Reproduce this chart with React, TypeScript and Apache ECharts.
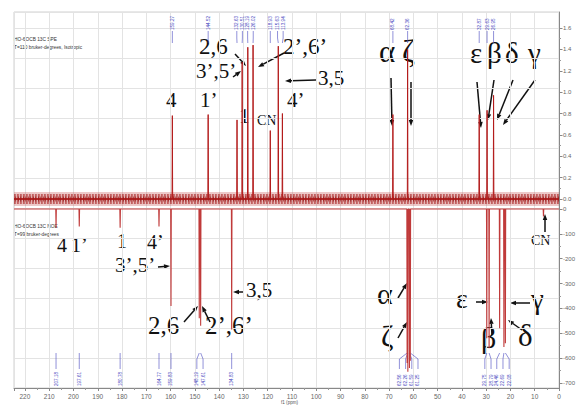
import React, { useEffect, useRef } from 'react';
import * as echarts from 'echarts';

// ---- data ----
const upperPpm = [159.27, 144.52, 132.63, 130.51, 128.19, 126.02, 118.93, 115.63, 113.94, 68.42, 62.36, 32.87, 29.63, 26.95];
const upperHeight = [0.78, 0.79, 0.74, 1.28, 1.42, 1.44, 0.64, 1.43, 0.8, 0.79, 1.4, 0.79, 0.83, 0.97];
const lowerPpm = [207.18, 197.61, 180.78, 164.77, 159.83, 148.19, 147.61, 134.83, 62.56, 62.26, 61.59, 61.25, 29.75, 28.79, 24.46, 22.69, 22.08, 6.4];
const lowerHeight = [-75, -70, -75, -70, -390, -440, -470, -485, -620, -655, -640, -610, -520, -560, -480, -555, -540, -30];
const lowerLabelPpm = [207.18, 197.61, 180.78, 164.77, 159.83, 148.19, 147.61, 134.83, 62.56, 62.26, 61.59, 61.25, 29.75, 28.79, 24.46, 22.69, 22.08];
const upperTickValues = [0, 0.2, 0.4, 0.6, 0.8, 1.0, 1.2, 1.4, 1.6];
const upperMinorTicks = [0.1, 0.3, 0.5, 0.7, 0.9, 1.1, 1.3, 1.5];
const lowerTickValues = [0, -100, -200, -300, -400, -500, -600, -700];
const lowerMinorTicks = [-50, -150, -250, -350, -450, -550, -650];
const ppmMax = 224.5;
const xAxisTitle = 'f1 (ppm)';

const titleUpper = ['HO-6OCB 13C SPE', 'T=110 bruker-degrees, Isotropic'];
const titleLower = ['HO-6OCB 13C NOE', 'T=99 bruker-degrees'];

function buildSpectrum(ppms: number[], heights: number[]) {
  const pairs = ppms.map((p, i) => [p, heights[i]]).sort((a, b) => b[0] - a[0]);
  const pts: number[][] = [[ppmMax, 0]];
  const hw = 0.12;
  pairs.forEach(([p, h]) => {
    pts.push([p + hw, 0], [p, h], [p - hw, 0]);
  });
  pts.push([0, 0]);
  return pts;
}

function spread(xs: number[], gap: number) {
  const idx = xs.map((x, i) => i).sort((a, b) => xs[a] - xs[b]);
  const out = xs.slice();
  let cluster: number[] = [idx[0]];
  const flush = () => {
    const n = cluster.length;
    const c = cluster.reduce((s, k) => s + xs[k], 0) / n;
    cluster.forEach((k, j) => { out[k] = c + (j - (n - 1) / 2) * gap; });
  };
  for (let j = 1; j < idx.length; j++) {
    const prev = idx[j - 1];
    const cur = idx[j];
    if (xs[cur] - xs[prev] < gap) cluster.push(cur);
    else { flush(); cluster = [cur]; }
  }
  flush();
  return out;
}

const INK = '#111';
const SERIF = '"Liberation Serif", "DejaVu Serif", serif';

function label(text: string, x: number, y: number, size: number) {
  return { type: 'text', x, y, silent: true, style: { text, fontSize: size, fontFamily: SERIF, fill: INK, align: 'left', verticalAlign: 'top' } };
}

function arrow(x1: number, y1: number, x2: number, y2: number, head = 6) {
  const a = Math.atan2(y2 - y1, x2 - x1);
  const bx = x2 - head * Math.cos(a);
  const by = y2 - head * Math.sin(a);
  const px = -Math.sin(a) * head * 0.38;
  const py = Math.cos(a) * head * 0.38;
  return [
    { type: 'line', silent: true, shape: { x1, y1, x2: bx, y2: by }, style: { stroke: INK, lineWidth: 1.5 } },
    { type: 'polygon', silent: true, shape: { points: [[x2, y2], [bx + px, by + py], [bx - px, by - py]] }, style: { fill: INK } },
  ];
}

function smallText(text: string, x: number, y: number) {
  return { type: 'text', x, y, silent: true, style: { text, fontSize: 4.8, fontFamily: 'Arial, "Liberation Sans", sans-serif', fill: '#333', align: 'left', verticalAlign: 'top' } };
}

const BLUE = '#4646c0';

export default function App() {
  const ref = useRef<HTMLDivElement>(null);
  useEffect(() => {
    if (!ref.current) return;
    const chart = echarts.init(ref.current, undefined, { renderer: 'svg' });
    const gridTop = 12, gridBottom = 18;
    const upperPx = 171 / 1.6; // px per unit
    const lowerPx = 174 / 700;
    const upMax = (199 - gridTop) / upperPx;
    const upMin = -(406 - gridBottom - 199) / upperPx;
    const loMax = (209 - gridTop) / lowerPx;
    const loMin = -(406 - gridBottom - 209) / lowerPx;
    const gridLineMax = (406 - gridBottom - gridTop) / 30;

    const hiddenAxis = { show: true, axisLine: { show: false, onZero: false }, axisLabel: { show: false }, splitLine: { show: false } };

    const graphics: any[] = [
      smallText(titleUpper[0], 14, 37),
      smallText(titleUpper[1], 14, 45),
      smallText(titleLower[0], 14, 224),
      smallText(titleLower[1], 14, 232),
      { type: 'text', x: 281, y: 399.5, silent: true, style: { text: xAxisTitle, fontSize: 4.6, fontFamily: 'Arial', fill: '#555', align: 'left', verticalAlign: 'top' } },
      // upper spectrum annotations
      label('2,6', 199, 35, 23), ...arrow(235, 54, 246, 66),
      label('3’,5’', 196, 60, 21), ...arrow(233, 77, 241, 71),
      label('2’,6’', 283, 35, 23), ...arrow(284, 53, 258, 67),
      label('3,5', 318, 67, 21), ...arrow(316, 80, 285, 81),
      label('4', 166, 89, 21), label('1’', 200, 89, 21), label('1', 239, 105, 21),
      { type: 'text', x: 257, y: 113, silent: true, style: { text: 'CN', fontSize: 14, fontFamily: SERIF, fill: INK, align: 'left', verticalAlign: 'top' } },
      label('4’', 287, 89, 21),
      label('α', 379, 36, 31), label('ζ', 402, 36, 31),
      ...arrow(391, 78, 392, 126), ...arrow(411, 82, 411, 126),
      label('ε', 470, 38, 29), label('β', 487, 38, 29), label('δ', 505, 38, 29), label('γ', 528, 38, 29),
      ...arrow(477, 82, 481, 128), ...arrow(494, 80, 488, 120), ...arrow(513, 80, 497, 120), ...arrow(535, 80, 503, 125),
      // lower spectrum annotations
      label('4', 57, 235, 20), label('1’', 71, 235, 20), label('1', 117, 231, 20), label('4’', 147, 232, 20),
      label('3’,5’', 115, 254, 21), ...arrow(158, 267, 170, 266),
      label('3,5', 246, 279, 21), ...arrow(244, 292, 233, 292),
      label('2,6', 148, 313, 25), ...arrow(184, 322, 198, 306),
      label('2’,6’', 205, 313, 25), ...arrow(210, 322, 202, 306),
      label('α', 377, 278, 30), ...arrow(398, 298, 407, 283),
      label('ζ', 381, 320, 30), ...arrow(398, 338, 407, 322),
      label('ε', 456, 284, 28), ...arrow(476, 302, 488, 302),
      label('β', 481, 322, 30), ...arrow(492, 335, 491, 318),
      label('δ', 518, 320, 31), ...arrow(522, 330, 508, 320),
      label('γ', 531, 284, 29), ...arrow(530, 303, 510, 303),
      { type: 'text', x: 531, y: 233, silent: true, style: { text: 'CN', fontSize: 14, fontFamily: SERIF, fill: INK, align: 'left', verticalAlign: 'top' } },
      ...arrow(545, 232, 545, 214),
    ];

    const upperData = buildSpectrum(upperPpm, upperHeight);
    const lowerData = buildSpectrum(lowerPpm, lowerHeight);
    const band = [[ppmMax, 0], [0, 0]];

    chart.setOption({
      animation: false,
      backgroundColor: '#fff',
      grid: { left: 14, right: 19, top: gridTop, bottom: gridBottom, containLabel: false, outerBoundsMode: 'none', show: true, borderColor: '#d0d0d0', borderWidth: 1 },
      xAxis: {
        type: 'value', inverse: true, min: 0, max: ppmMax, interval: 10,
        axisLine: { show: true, onZero: false, lineStyle: { color: '#888' } },
        axisTick: { length: 3, lineStyle: { color: '#888' } },
        minorTick: { show: true, splitNumber: 2, length: 2, lineStyle: { color: '#999' } },
        axisLabel: { fontSize: 6.5, color: '#666', margin: 5, showMaxLabel: false, fontFamily: 'Arial' },
        splitLine: { show: true, lineStyle: { color: '#e3e3e3', width: 1 } },
      },
      yAxis: [
        {
          type: 'value', position: 'right', min: upMin, max: upMax,
          axisLine: { show: true, onZero: false, lineStyle: { color: '#888' } },
          axisTick: { show: true, length: 3.5, customValues: upperTickValues, lineStyle: { color: '#888' } },
          axisLabel: { show: true, customValues: upperTickValues, fontSize: 6, color: '#666', margin: 4, fontFamily: 'Arial', formatter: (v: number) => v.toFixed(1) },
          splitLine: { show: false },
        },
        {
          type: 'value', position: 'right', min: loMin, max: loMax,
          axisLine: { show: false, onZero: false },
          axisTick: { show: true, length: 3.5, customValues: lowerTickValues, lineStyle: { color: '#888' } },
          axisLabel: { show: true, customValues: lowerTickValues, fontSize: 6, color: '#666', margin: 4, fontFamily: 'Arial', formatter: (v: number) => String(v) },
          splitLine: { show: false },
        },
        {
          type: 'value', position: 'left', min: 0, max: gridLineMax, interval: 1,
          axisLine: { show: false, onZero: false }, axisTick: { show: false }, axisLabel: { show: false },
          splitLine: { show: true, lineStyle: { color: '#e3e3e3', width: 1 } },
        },
        { ...hiddenAxis, type: 'value', position: 'right', min: upMin, max: upMax, axisTick: { show: true, length: 2, customValues: upperMinorTicks, lineStyle: { color: '#999' } } },
        { ...hiddenAxis, type: 'value', position: 'right', min: loMin, max: loMax, axisTick: { show: true, length: 2, customValues: lowerMinorTicks, lineStyle: { color: '#999' } } },
      ],
      series: [
        // upper noise band (style only: a thick textured baseline)
        { type: 'line', xAxisIndex: 0, yAxisIndex: 0, symbol: 'none', silent: true, data: band,
          lineStyle: { color: 'rgba(190,60,60,0.28)', width: 14 } },
        { type: 'line', xAxisIndex: 0, yAxisIndex: 0, symbol: 'none', silent: true, data: band,
          lineStyle: { color: '#a51a1a', width: 10, type: [0.6, 0.9] } },
        { type: 'line', xAxisIndex: 0, yAxisIndex: 0, symbol: 'none', silent: true, data: band,
          lineStyle: { color: '#8c0c0c', width: 5, type: [0.6, 1.9], dashOffset: 0.7 } },
        { type: 'line', xAxisIndex: 0, yAxisIndex: 0, symbol: 'none', silent: true, data: band,
          lineStyle: { color: '#9a1010', width: 1.3 } },
        {
          type: 'line', xAxisIndex: 0, yAxisIndex: 0, symbol: 'none', silent: true,
          data: upperData,
          lineStyle: { color: '#b31b1b', width: 1 },
        },
        {
          type: 'line', xAxisIndex: 0, yAxisIndex: 1, symbol: 'none', silent: true,
          data: lowerData,
          lineStyle: { color: '#c03a3a', width: 1.1 },
        },
        {
          type: 'custom', xAxisIndex: 0, yAxisIndex: 0, silent: true, clip: false,
          data: [[0, 0]],
          renderItem: (params: any, api: any) => {
            const xs = upperPpm.map((p) => api.coord([p, 0])[0]);
            const lx = spread(xs, 5.6);
            const children: any[] = [];
            xs.forEach((x, i) => {
              children.push({ type: 'line', shape: { x1: x, y1: 43, x2: lx[i], y2: 38 }, style: { stroke: BLUE, lineWidth: 0.6 } });
              children.push({ type: 'line', shape: { x1: lx[i], y1: 38, x2: lx[i], y2: 31 }, style: { stroke: BLUE, lineWidth: 0.6 } });
              children.push({ type: 'text', x: lx[i], y: 30, rotation: Math.PI / 2, style: { text: upperPpm[i].toFixed(2), fontSize: 4.6, fontFamily: 'Arial', fill: BLUE, align: 'left', verticalAlign: 'middle' } });
            });
            return { type: 'group', children };
          },
        },
        {
          type: 'custom', xAxisIndex: 0, yAxisIndex: 1, silent: true, clip: false,
          data: [[0, 0]],
          renderItem: (params: any, api: any) => {
            const xs = lowerLabelPpm.map((p) => api.coord([p, 0])[0]);
            const lx = spread(xs, 6.2);
            const children: any[] = [];
            xs.forEach((x, i) => {
              children.push({ type: 'line', shape: { x1: x, y1: 353, x2: lx[i], y2: 359 }, style: { stroke: BLUE, lineWidth: 0.6 } });
              children.push({ type: 'line', shape: { x1: lx[i], y1: 359, x2: lx[i], y2: 369 }, style: { stroke: BLUE, lineWidth: 0.6 } });
              children.push({ type: 'text', x: lx[i], y: 386, rotation: Math.PI / 2, style: { text: lowerLabelPpm[i].toFixed(2), fontSize: 4.6, fontFamily: 'Arial', fill: BLUE, align: 'left', verticalAlign: 'middle' } });
            });
            return { type: 'group', children };
          },
        },
      ],
      graphic: graphics,
    });
    return () => chart.dispose();
  }, []);
  return <div ref={ref} style={{ position: 'absolute', left: 0, top: 0, width: 578, height: 406 }} />;
}
